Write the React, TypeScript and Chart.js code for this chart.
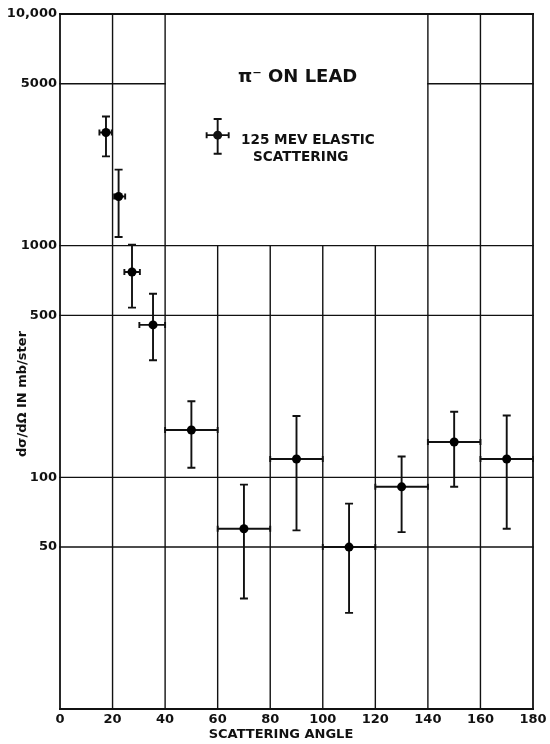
import { useEffect, useRef } from "react";
import { Chart, registerables } from "chart.js";

Chart.register(...registerables);

// ---- data ----
const angles = [17.5, 22.3, 27.4, 35.4, 50, 70, 90, 110, 130, 150, 170];
const angleLow = [15, 20.6, 24.5, 30.2, 40, 60, 80, 100, 120, 140, 160];
const angleHigh = [19.7, 24.8, 30.4, 40, 60, 80, 100, 120, 140, 160, 180];
const crossSection = [3080, 1630, 770, 455, 160, 60, 120, 50, 91, 142, 120];
const crossLow = [2430, 1090, 540, 320, 110, 30, 59, 26, 58, 91, 60];
const crossHigh = [3610, 2130, 1010, 620, 213, 93, 184, 77, 123, 192, 185];

const xTicks = [0, 20, 40, 60, 80, 100, 120, 140, 160, 180];
const yTicks = [50, 100, 500, 1000, 5000, 10000];

// grid structure (data units)
const fullVerticals = [0, 20, 40, 140, 160, 180];
const lowerVerticals = [60, 80, 100, 120];
const fullHorizontals = [10, 50, 100, 500, 1000, 10000];
const splitHorizontal = 5000;
const splitSpans = [
  [0, 40],
  [140, 180],
];

// legend key sample
const keyAngle = [60];
const keyAngleLow = [55.8];
const keyAngleHigh = [64.2];
const keyValue = [3000];
const keyLow = [2495];
const keyHigh = [3524];

const FONT = "'DejaVu Sans', sans-serif";
const INK = "#111";

function drawErrorBar(
  ctx: CanvasRenderingContext2D,
  xs: any,
  ys: any,
  a: number,
  aL: number,
  aH: number,
  v: number,
  vL: number,
  vH: number
) {
  const px = xs.getPixelForValue(a);
  const py = ys.getPixelForValue(v);
  const pxL = xs.getPixelForValue(aL);
  const pxH = xs.getPixelForValue(aH);
  const pyL = ys.getPixelForValue(vL);
  const pyH = ys.getPixelForValue(vH);
  const cap = 4;
  const tick = 3;
  ctx.beginPath();
  ctx.moveTo(px, pyL);
  ctx.lineTo(px, pyH);
  ctx.moveTo(px - cap, pyL);
  ctx.lineTo(px + cap, pyL);
  ctx.moveTo(px - cap, pyH);
  ctx.lineTo(px + cap, pyH);
  ctx.moveTo(pxL, py);
  ctx.lineTo(pxH, py);
  ctx.moveTo(pxL, py - tick);
  ctx.lineTo(pxL, py + tick);
  ctx.moveTo(pxH, py - tick);
  ctx.lineTo(pxH, py + tick);
  ctx.stroke();
}

const gridPlugin = {
  id: "paperGrid",
  beforeDatasetsDraw(chart: any) {
    const { ctx } = chart;
    const xs = chart.scales.x;
    const ys = chart.scales.y;
    ctx.save();
    ctx.strokeStyle = INK;
    ctx.lineCap = "square";
    const seg = (x1: number, y1: number, x2: number, y2: number, w: number) => {
      ctx.lineWidth = w;
      ctx.beginPath();
      ctx.moveTo(xs.getPixelForValue(x1), ys.getPixelForValue(y1));
      ctx.lineTo(xs.getPixelForValue(x2), ys.getPixelForValue(y2));
      ctx.stroke();
    };
    fullVerticals.forEach((v) => seg(v, 10, v, 10000, v === 0 || v === 180 ? 1.8 : 1.4));
    lowerVerticals.forEach((v) => seg(v, 10, v, 1000, 1.4));
    fullHorizontals.forEach((v) => seg(0, v, 180, v, v === 10 || v === 10000 ? 1.8 : 1.4));
    splitSpans.forEach(([a, b]) => seg(a, splitHorizontal, b, splitHorizontal, 1.4));

    // error bars
    ctx.lineWidth = 1.9;
    ctx.lineCap = "butt";
    for (let i = 0; i < angles.length; i++) {
      drawErrorBar(ctx, xs, ys, angles[i], angleLow[i], angleHigh[i], crossSection[i], crossLow[i], crossHigh[i]);
    }
    ctx.restore();
  },
  afterDraw(chart: any) {
    const { ctx } = chart;
    const xs = chart.scales.x;
    const ys = chart.scales.y;
    ctx.save();
    ctx.strokeStyle = INK;
    ctx.fillStyle = INK;
    ctx.lineWidth = 1.9;
    // legend key
    drawErrorBar(ctx, xs, ys, keyAngle[0], keyAngleLow[0], keyAngleHigh[0], keyValue[0], keyLow[0], keyHigh[0]);
    ctx.beginPath();
    ctx.arc(xs.getPixelForValue(keyAngle[0]), ys.getPixelForValue(keyValue[0]), 4.5, 0, Math.PI * 2);
    ctx.fill();

    ctx.textBaseline = "middle";
    ctx.textAlign = "left";
    ctx.font = `bold 18px ${FONT}`;
    ctx.fillText("π⁻ ON LEAD", 238, 77);
    ctx.font = `bold 13.6px ${FONT}`;
    ctx.fillText("125 MEV ELASTIC", 241, 140);
    ctx.fillText("SCATTERING", 253, 157);

    // axis titles
    ctx.textAlign = "center";
    ctx.font = `bold 13px ${FONT}`;
    ctx.fillText("SCATTERING ANGLE", 281, 735);
    ctx.translate(23, 394);
    ctx.rotate(-Math.PI / 2);
    ctx.fillText("dσ/dΩ IN mb/ster", 0, 0);
    ctx.restore();
  },
};

export default function App() {
  const ref = useRef<HTMLCanvasElement | null>(null);
  useEffect(() => {
    if (!ref.current) return;
    const chart = new Chart(ref.current, {
      type: "scatter",
      data: {
        datasets: [
          {
            data: angles.map((a, i) => ({ x: a, y: crossSection[i] })),
            backgroundColor: "#000",
            borderColor: "#000",
            borderWidth: 0,
            pointRadius: 4.5,
            pointHoverRadius: 4.5,
          },
        ],
      },
      options: {
        responsive: false,
        animation: false,
        layout: { padding: { left: 0, right: 17, top: 14, bottom: 0 } },
        plugins: { legend: { display: false }, tooltip: { enabled: false } },
        scales: {
          x: {
            type: "linear",
            min: 0,
            max: 180,
            grid: { display: false, drawTicks: false },
            border: { display: false },
            afterBuildTicks: (s: any) => {
              s.ticks = xTicks.map((v) => ({ value: v }));
            },
            afterFit: (s: any) => {
              s.height = 35;
            },
            ticks: {
              color: INK,
              font: { family: FONT, weight: "bold", size: 13 },
              padding: 3,
              maxRotation: 0,
              autoSkip: false,
            },
          },
          y: {
            type: "logarithmic",
            min: 10,
            max: 10000,
            grid: { display: false, drawTicks: false },
            border: { display: false },
            afterBuildTicks: (s: any) => {
              s.ticks = yTicks.map((v) => ({ value: v }));
            },
            afterFit: (s: any) => {
              s.width = 60;
            },
            ticks: {
              color: INK,
              font: { family: FONT, weight: "bold", size: 13 },
              padding: 3,
              autoSkip: false,
              callback: (v: any) => (Number(v) === 10000 ? "10,000" : String(v)),
            },
          },
        },
      },
      plugins: [gridPlugin],
    });
    return () => chart.destroy();
  }, []);
  return (
    <div style={{ position: "absolute", left: 0, top: 0, width: 550, height: 744, background: "#fff" }}>
      <canvas ref={ref} width={550} height={744} style={{ display: "block" }} />
    </div>
  );
}
